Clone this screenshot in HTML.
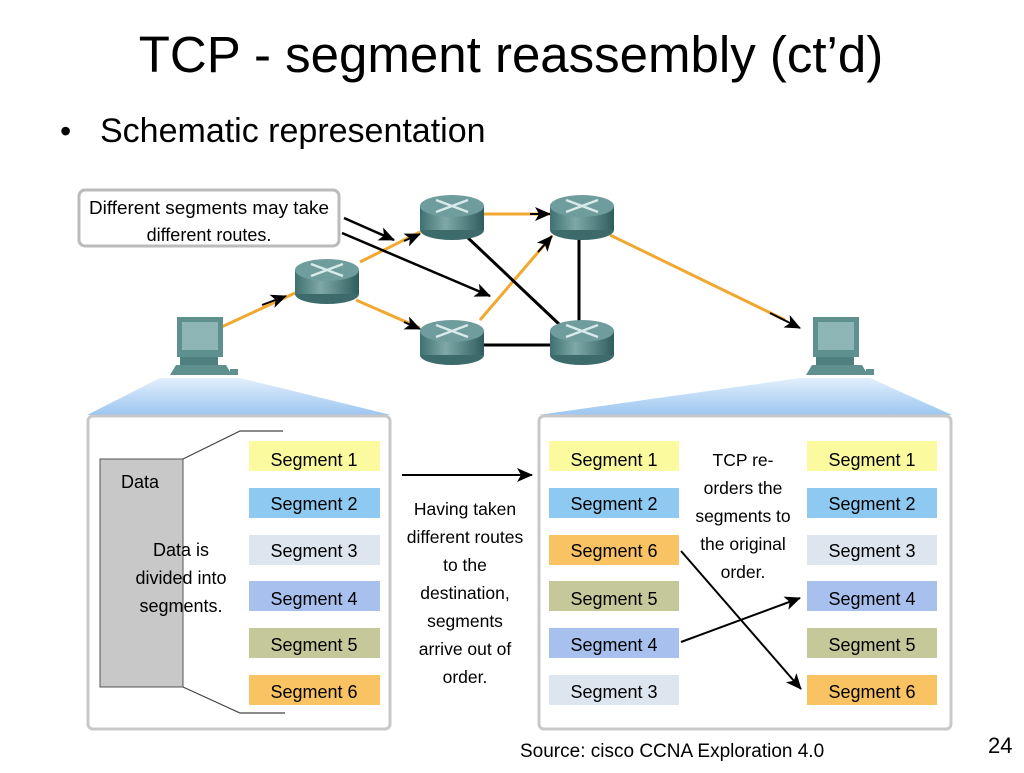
<!DOCTYPE html>
<html><head><meta charset="utf-8"><style>
body{margin:0;background:#fff;}
svg text{font-family:"Liberation Sans",Arial,sans-serif;}
</style></head><body>
<svg width="1024" height="768" viewBox="0 0 1024 768" xmlns="http://www.w3.org/2000/svg">
<defs>
<marker id="ah" markerWidth="16" markerHeight="14" refX="15" refY="7" orient="auto" markerUnits="userSpaceOnUse" viewBox="0 0 16 14"><path d="M0,0 L16,7 L0,14 L4,7z" fill="#000"/></marker>
<marker id="ab" markerWidth="16" markerHeight="14" refX="15" refY="7" orient="auto" markerUnits="userSpaceOnUse" viewBox="0 0 16 14"><path d="M0,0 L16,7 L0,14 L4,7z" fill="#000"/></marker>
<linearGradient id="rg" x1="0" x2="1"><stop offset="0" stop-color="#3f7070"/><stop offset="0.4" stop-color="#7fa9a8"/><stop offset="1" stop-color="#2f5d5d"/></linearGradient>
<linearGradient id="bl" x1="0" y1="0" x2="0" y2="1"><stop offset="0" stop-color="#e2effc"/><stop offset="1" stop-color="#9cc6f0"/></linearGradient>
<g id="router"><ellipse cx="0" cy="12" rx="32" ry="10" fill="#3d6b6b"/><rect x="-32" y="-12" width="64" height="24" fill="url(#rg)"/><ellipse cx="0" cy="-12" rx="32" ry="11" fill="#6f9c9c"/><path d="M-16,-18 L16,-6 M16,-18 L-16,-6" stroke="#d8eaea" stroke-width="2.5"/></g>
<g id="pc"><rect x="-23" y="-30" width="46" height="40" fill="#5f9090"/><rect x="-18" y="-25" width="36" height="28" fill="#8fb6b6"/><rect x="-20" y="10" width="38" height="8" fill="#4f8080"/><path d="M-30,28 L-24,18 L26,18 L32,28z" fill="#5f8f8f"/><rect x="30" y="22" width="8" height="6" fill="#5f8f8f"/></g>
</defs>
<text x="511" y="72" font-size="51" text-anchor="middle" fill="#000">TCP - segment reassembly (ct’d)</text>
<text x="60" y="142" font-size="32" fill="#000">•</text>
<text x="100" y="142" font-size="34" fill="#000">Schematic representation</text>

<rect x="79" y="190" width="260" height="56" rx="6" fill="#fff" stroke="#bbb" stroke-width="3"/>
<text x="209" y="214" font-size="18" text-anchor="middle" textLength="240" lengthAdjust="spacingAndGlyphs">Different segments may take</text>
<text x="209" y="241" font-size="18" text-anchor="middle">different routes.</text>

<g stroke-width="3">
<line x1="215" y1="330" x2="295" y2="293" stroke="#f0a830"/>
<line x1="205" y1="335" x2="218" y2="328" stroke="#000"/>
<line x1="360" y1="262" x2="420" y2="232" stroke="#f0a830"/>
<line x1="356" y1="300" x2="420" y2="328" stroke="#f0a830"/>
<line x1="484" y1="214" x2="550" y2="214" stroke="#f0a830"/>
<line x1="480" y1="320" x2="552" y2="236" stroke="#f0a830"/>
<line x1="610" y1="235" x2="785" y2="320" stroke="#f0a830"/>
<line x1="466" y1="236" x2="560" y2="325" stroke="#000"/>
<line x1="579" y1="232" x2="579" y2="325" stroke="#000"/>
<line x1="484" y1="345" x2="552" y2="345" stroke="#000"/>
</g>
<line x1="344" y1="218" x2="394" y2="240" stroke="#000" stroke-width="2.5" marker-end="url(#ah)"/>
<line x1="342" y1="233" x2="490" y2="296" stroke="#000" stroke-width="2.5" marker-end="url(#ah)"/>
<g stroke="#000" stroke-width="2" fill="none">
<line x1="262" y1="305" x2="286" y2="296" marker-end="url(#ab)"/>
<line x1="404" y1="241" x2="420" y2="234" marker-end="url(#ab)"/>
<line x1="404" y1="322" x2="420" y2="329" marker-end="url(#ab)"/>
<line x1="530" y1="214" x2="550" y2="214" marker-end="url(#ab)"/>
<line x1="538" y1="252" x2="552" y2="236" marker-end="url(#ab)"/>
<line x1="770" y1="313" x2="800" y2="328" marker-end="url(#ab)"/>
</g>
<use href="#router" x="327" y="282"/>
<use href="#router" x="452" y="218"/>
<use href="#router" x="582" y="218"/>
<use href="#router" x="452" y="343"/>
<use href="#router" x="582" y="343"/>
<use href="#pc" x="200" y="347"/>
<use href="#pc" x="836" y="347"/>

<polygon points="160,378 240,378 391,415 87,415" fill="url(#bl)"/>
<polygon points="800,378 870,378 952,415 538,415" fill="url(#bl)"/>

<rect x="88" y="416" width="302" height="313" rx="5" fill="#fff" stroke="#c8c8c8" stroke-width="3"/>
<rect x="539" y="416" width="412" height="313" rx="5" fill="#fff" stroke="#c8c8c8" stroke-width="3"/>

<rect x="100" y="459" width="83" height="228" fill="#c8c8c8" stroke="#555" stroke-width="1"/>
<polyline points="183,459 240,431 283,431" fill="none" stroke="#444" stroke-width="1.2"/>
<polyline points="183,687 240,713 285,713" fill="none" stroke="#444" stroke-width="1.2"/>
<text x="121" y="488" font-size="18">Data</text>
<g font-size="18" text-anchor="middle"><text x="181" y="556">Data is</text><text x="181" y="584">divided into</text><text x="181" y="612">segments.</text></g>

<g font-size="18">
<rect x="249" y="441" width="131" height="30" fill="#fbfa9e"/><text x="314" y="466" text-anchor="middle">Segment 1</text>
<rect x="249" y="488" width="131" height="30" fill="#8ec9f2"/><text x="314" y="510" text-anchor="middle">Segment 2</text>
<rect x="249" y="535" width="131" height="30" fill="#dde5ef"/><text x="314" y="557" text-anchor="middle">Segment 3</text>
<rect x="249" y="581" width="131" height="30" fill="#a8c0ee"/><text x="314" y="605" text-anchor="middle">Segment 4</text>
<rect x="249" y="628" width="131" height="30" fill="#c5c99a"/><text x="314" y="651" text-anchor="middle">Segment 5</text>
<rect x="249" y="675" width="131" height="30" fill="#f9c262"/><text x="314" y="698" text-anchor="middle">Segment 6</text>

<rect x="549" y="441" width="130" height="30" fill="#fbfa9e"/><text x="614" y="466" text-anchor="middle">Segment 1</text>
<rect x="549" y="488" width="130" height="30" fill="#8ec9f2"/><text x="614" y="510" text-anchor="middle">Segment 2</text>
<rect x="549" y="535" width="130" height="30" fill="#f9c262"/><text x="614" y="557" text-anchor="middle">Segment 6</text>
<rect x="549" y="581" width="130" height="30" fill="#c5c99a"/><text x="614" y="605" text-anchor="middle">Segment 5</text>
<rect x="549" y="628" width="130" height="30" fill="#a8c0ee"/><text x="614" y="651" text-anchor="middle">Segment 4</text>
<rect x="549" y="675" width="130" height="30" fill="#dde5ef"/><text x="614" y="698" text-anchor="middle">Segment 3</text>

<rect x="807" y="441" width="130" height="30" fill="#fbfa9e"/><text x="872" y="466" text-anchor="middle">Segment 1</text>
<rect x="807" y="488" width="130" height="30" fill="#8ec9f2"/><text x="872" y="510" text-anchor="middle">Segment 2</text>
<rect x="807" y="535" width="130" height="30" fill="#dde5ef"/><text x="872" y="557" text-anchor="middle">Segment 3</text>
<rect x="807" y="581" width="130" height="30" fill="#a8c0ee"/><text x="872" y="605" text-anchor="middle">Segment 4</text>
<rect x="807" y="628" width="130" height="30" fill="#c5c99a"/><text x="872" y="651" text-anchor="middle">Segment 5</text>
<rect x="807" y="675" width="130" height="30" fill="#f9c262"/><text x="872" y="698" text-anchor="middle">Segment 6</text>
</g>

<line x1="402" y1="475" x2="532" y2="475" stroke="#000" stroke-width="2" marker-end="url(#ab)"/>
<g font-size="17.5" text-anchor="middle">
<text x="465" y="515">Having taken</text><text x="465" y="543">different routes</text><text x="465" y="571">to the</text><text x="465" y="599">destination,</text><text x="465" y="627">segments</text><text x="465" y="655">arrive out of</text><text x="465" y="683">order.</text>
<text x="743" y="466">TCP re-</text><text x="743" y="494">orders the</text><text x="743" y="522">segments to</text><text x="743" y="550">the original</text><text x="743" y="578">order.</text>
</g>
<line x1="681" y1="551" x2="801" y2="689" stroke="#000" stroke-width="2" marker-end="url(#ab)"/>
<line x1="681" y1="642" x2="800" y2="598" stroke="#000" stroke-width="2" marker-end="url(#ab)"/>

<text x="520" y="757" font-size="19">Source: cisco CCNA Exploration 4.0</text>
<text x="988" y="753" font-size="22">24</text>
</svg>
</body></html>
